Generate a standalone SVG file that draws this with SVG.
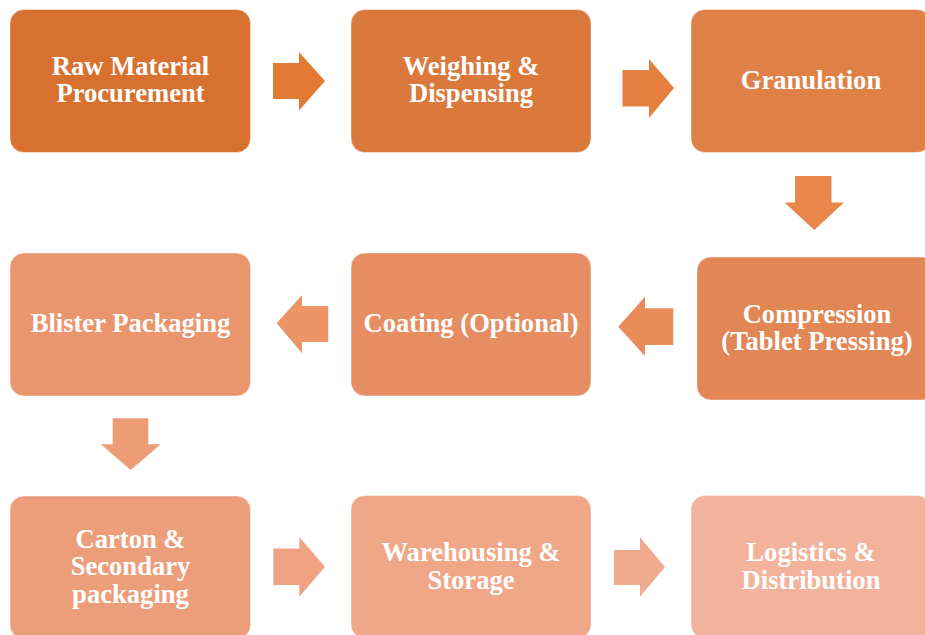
<svg xmlns="http://www.w3.org/2000/svg" width="925" height="635" viewBox="0 0 925 635">
<style>
.box{stroke:#ffffff;stroke-opacity:0.45;stroke-width:1}
.t{font-family:"Liberation Serif","Times New Roman",serif;font-weight:bold;font-size:26.6px;fill:#ffffff;text-anchor:middle}
</style>
<rect width="925" height="635" fill="#ffffff"/>
<g id="connectors">
<polygon points="273,63 299,63 299,52 325,81 299,110.5 299,99 273,99" fill="#E37A34"/>
<polygon points="622.5,70 649,70 649,59 674,88 649,118 649,106.5 622.5,106.5" fill="#E57F3F"/>
<polygon points="795,176 831.5,176 831.5,202.5 844,202.5 814.3,230 784.5,202.5 795,202.5" fill="#E8864C"/>
<polygon points="673.3,308.3 645,308.3 645,296.7 618.3,326.7 645,356 645,345 673.3,345" fill="#E98C5A"/>
<polygon points="328.3,306 302,306 302,295 276.7,323.3 302,353.3 302,342 328.3,342" fill="#EB9567"/>
<polygon points="112.7,418.3 148.3,418.3 148.3,444.3 160.7,444.3 130.7,470 100.7,444.3 112.7,444.3" fill="#ED9C76"/>
<polygon points="273.3,548.5 299.3,548.5 299.3,537.3 325,566.7 299.3,596.7 299.3,585 273.3,585" fill="#EFA383"/>
<polygon points="614,550 640,550 640,537.3 665,567 640,596.7 640,585 614,585" fill="#F0AA8E"/>
</g>
<g id="n1">
<rect class="box" x="10" y="9.5" width="240.5" height="143" rx="14" fill="#D87130"/>
<text class="t" x="130.5" y="74.5">Raw Material</text>
<text class="t" x="130.5" y="102">Procurement</text>
</g>
<g id="n2">
<rect class="box" x="351" y="9.5" width="240" height="143" rx="14" fill="#DB793C"/>
<text class="t" x="471" y="74.5">Weighing &amp;</text>
<text class="t" x="471" y="102">Dispensing</text>
</g>
<g id="n3">
<rect class="box" x="691" y="9.5" width="240" height="143" rx="14" fill="#DF8047"/>
<text class="t" x="811" y="88.5">Granulation</text>
</g>
<g id="n4">
<rect class="box" x="697" y="257" width="240" height="143" rx="14" fill="#E28656"/>
<text class="t" x="817" y="322.5">Compression</text>
<text class="t" x="817" y="350">(Tablet Pressing)</text>
</g>
<g id="n5">
<rect class="box" x="351" y="253" width="240" height="143" rx="14" fill="#E68D62"/>
<text class="t" x="471" y="331.5">Coating (Optional)</text>
</g>
<g id="n6">
<rect class="box" x="10" y="253" width="240.5" height="143" rx="14" fill="#E9966F"/>
<text class="t" x="130.5" y="331.5">Blister Packaging</text>
</g>
<g id="n7">
<rect class="box" x="10" y="496" width="240.5" height="143" rx="14" fill="#EC9E7B"/>
<text class="t" x="130.5" y="547.5">Carton &amp;</text>
<text class="t" x="130.5" y="575">Secondary</text>
<text class="t" x="130.5" y="602.5">packaging</text>
</g>
<g id="n8">
<rect class="box" x="351" y="495.5" width="240" height="143" rx="14" fill="#EFA788"/>
<text class="t" x="471" y="561">Warehousing &amp;</text>
<text class="t" x="471" y="588.5">Storage</text>
</g>
<g id="n9">
<rect class="box" x="691" y="495.5" width="240" height="143" rx="14" fill="#F2B29B"/>
<text class="t" x="811" y="561">Logistics &amp;</text>
<text class="t" x="811" y="588.5">Distribution</text>
</g>
</svg>
